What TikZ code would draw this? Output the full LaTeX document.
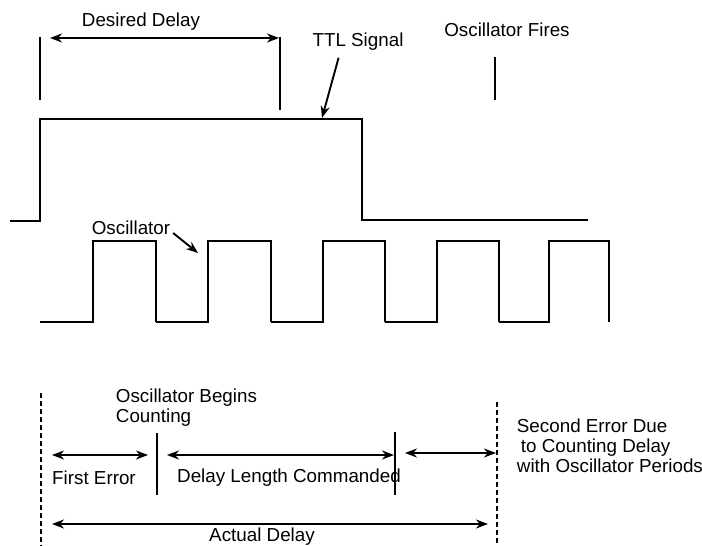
\documentclass[tikz,border=0pt]{standalone}
\usepackage{fontspec}
\setmainfont{Liberation Sans}
\usetikzlibrary{arrows.meta}

\begin{document}
\begin{tikzpicture}[x=1pt,y=-1pt,line width=1.9pt,
		every node/.style={font=\fontsize{18.8}{20}\selectfont,inner sep=0pt},
		dim/.style={{Stealth[length=12pt,width=9pt]}-{Stealth[length=12pt,width=9pt]}},
		pointer/.style={-{Stealth[length=12pt,width=9pt]}},
		marker/.style={dash pattern=on 5pt off 3pt,line width=1.6pt}]
	\useasboundingbox (0,0) rectangle (702,546);
	% labels
	\node (desired) at (141,22) {Desired Delay};
	\node (ttl) at (358,42) {TTL Signal};
	\node (fires) at (507,30) {Oscillator Fires};
	\node (osc) at (131,228) {Oscillator};
	\node[anchor=north west,align=left] (begins) at (115,388) {Oscillator Begins\\Counting};
	\node (first) at (94,478) {First Error};
	\node (cmd) at (289,478) {Delay Length Commanded};
	\node[anchor=north west,align=left] (second) at (516,418) {Second Error Due\\\hspace{4pt}to Counting Delay\\with Oscillator Periods};
	\node (actual) at (262,537) {Actual Delay};
	% TTL signal
	\draw (10,221) -- (40,221) -- (40,119) -- (362,119) -- (362,220) -- (588,220);
	\coordinate (ttlhigh) at (322,118);
	\draw[pointer] (ttl.south west) ++(27,6) coordinate (ttltail) (ttltail) -- (ttlhigh);
	% desired delay
	\coordinate (dstart) at (40,37);
	\coordinate (dend) at (280,37);
	\draw (dstart) -- ++(0,63);
	\draw (dend) -- ++(0,73);
	\coordinate (da) at (50,38);
	\coordinate (db) at (279,38);
	\draw[dim] (da) -- (db);
	\coordinate (firetop) at (495,57);
	\draw (firetop) -- ++(0,43);
	% oscillator
	\foreach \p/\a/\b in {40/93/156, 156/208/271, 271/323/385, 385/437/499, 499/549/609}
		\draw (\p,322) -- (\a,322) -- (\a,241) -- (\b,241) -- (\b,322);
	\coordinate (oschead) at (198,253);
	\draw[pointer] (osc.east) ++(2,5) coordinate (osctail) (osctail) -- (oschead);
	% delays
	\draw[marker] (41,393) coordinate (lefttop) -- (41,546);
	\draw[marker] (497,402) coordinate (righttop) -- (497,546);
	\coordinate (count) at (157,433);
	\coordinate (stop) at (395,432);
	\draw (count) -- ++(0,62);
	\draw (stop) -- ++(0,63);
	\coordinate (fa) at (52,455);
	\coordinate (fb) at (148,455);
	\draw[dim] (fa) -- (fb);
	\coordinate (ca) at (167,455);
	\coordinate (cb) at (394,455);
	\draw[dim] (ca) -- (cb);
	\coordinate (sa) at (405,453);
	\coordinate (sb) at (496,453);
	\draw[dim] (sa) -- (sb);
	\coordinate (aa) at (52,524);
	\coordinate (ab) at (488,524);
	\draw[dim] (aa) -- (ab);
\end{tikzpicture}
\end{document}
